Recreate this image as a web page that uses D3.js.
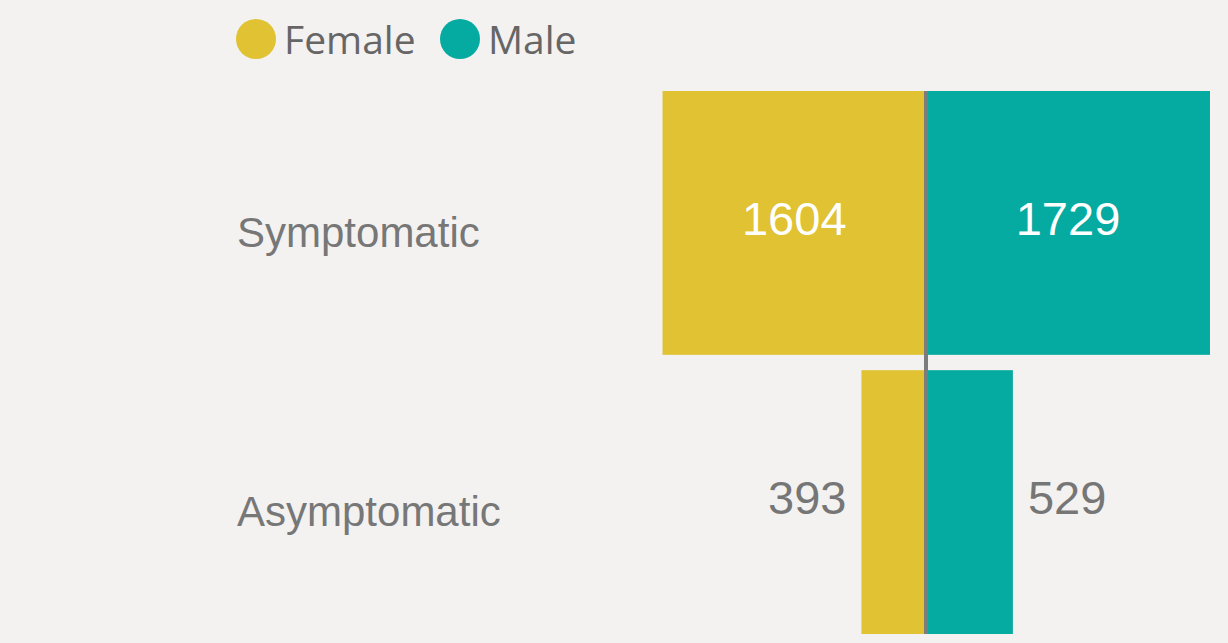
<!DOCTYPE html>
<html>
<head>
<meta charset="utf-8">
<script src="https://cdn.jsdelivr.net/npm/d3@7"></script>
<style>
  html, body { margin: 0; padding: 0; background: #F3F2F1; }
  svg { display: block; }
</style>
</head>
<body>
<svg id="chart" width="1228" height="643"></svg>
<script>
const categories = ["Symptomatic", "Asymptomatic"];
const seriesNames = ["Female", "Male"];
const femaleValues = [1604, 393];
const maleValues = [1729, 529];
const colors = ["#E0C233", "#05ABA0"];

const W = 1228, H = 643;
const svg = d3.select("#chart");
svg.append("rect").attr("width", W).attr("height", H).attr("fill", "#F3F2F1");

const maxV = d3.max([...femaleValues, ...maleValues]);
const center = 926;
const half = 284;
const x = d3.scaleLinear().domain([-maxV, maxV]).range([center - half, center + half]);
const y = d3.scaleBand().domain(categories).range([91, 634]).paddingInner(0.055).paddingOuter(0);

const rows = categories.map((c, i) => ({ cat: c, female: femaleValues[i], male: maleValues[i] }));

// bars
const g = svg.append("g");
g.selectAll("rect.f").data(rows).join("rect")
  .attr("class", "f")
  .attr("x", d => x(-d.female))
  .attr("y", d => y(d.cat))
  .attr("width", d => x(0) - x(-d.female))
  .attr("height", y.bandwidth())
  .attr("fill", colors[0]);
g.selectAll("rect.m").data(rows).join("rect")
  .attr("class", "m")
  .attr("x", x(0))
  .attr("y", d => y(d.cat))
  .attr("width", d => x(d.male) - x(0))
  .attr("height", y.bandwidth())
  .attr("fill", colors[1]);

// center line
svg.append("rect")
  .attr("x", x(0) - 2).attr("y", y(categories[0]))
  .attr("width", 4)
  .attr("height", y(categories[categories.length - 1]) + y.bandwidth() - y(categories[0]))
  .attr("fill", "#7C7C7C");

// value labels
const valFont = "'Liberation Sans', Arial, sans-serif";
const valSize = 47;
const insideMin = 200;
rows.forEach(d => {
  const cy = y(d.cat) + y.bandwidth() / 2 + 12;
  const fw = x(0) - x(-d.female);
  const mw = x(d.male) - x(0);
  // female
  svg.append("text")
    .attr("x", fw > insideMin ? x(-d.female) + fw / 2 : x(-d.female) - 15)
    .attr("y", cy)
    .attr("text-anchor", fw > insideMin ? "middle" : "end")
    .attr("font-family", valFont).attr("font-size", valSize)
    .attr("fill", fw > insideMin ? "#FFFFFF" : "#767676")
    .text(d.female);
  svg.append("text")
    .attr("x", mw > insideMin ? x(0) + mw / 2 : x(d.male) + 15)
    .attr("y", cy)
    .attr("text-anchor", mw > insideMin ? "middle" : "start")
    .attr("font-family", valFont).attr("font-size", valSize)
    .attr("fill", mw > insideMin ? "#FFFFFF" : "#767676")
    .text(d.male);
});

// category labels
svg.selectAll("text.cat").data(categories).join("text")
  .attr("class", "cat")
  .attr("x", 237)
  .attr("y", d => y(d) + y.bandwidth() / 2 + 24)
  .attr("font-family", valFont)
  .attr("font-size", 42)
  .attr("fill", "#777777")
  .text(d => d);

// legend
const legendX = [256, 460];
const lg = svg.append("g");
seriesNames.forEach((s, i) => {
  lg.append("circle").attr("cx", legendX[i]).attr("cy", 39).attr("r", 20).attr("fill", colors[i]);
  lg.append("text").attr("x", legendX[i] + 28).attr("y", 54)
    .attr("font-family", "'Open Sans', 'Noto Sans', sans-serif")
    .attr("font-size", 39)
    .attr("fill", "#666666")
    .text(s);
});
</script>
</body>
</html>
